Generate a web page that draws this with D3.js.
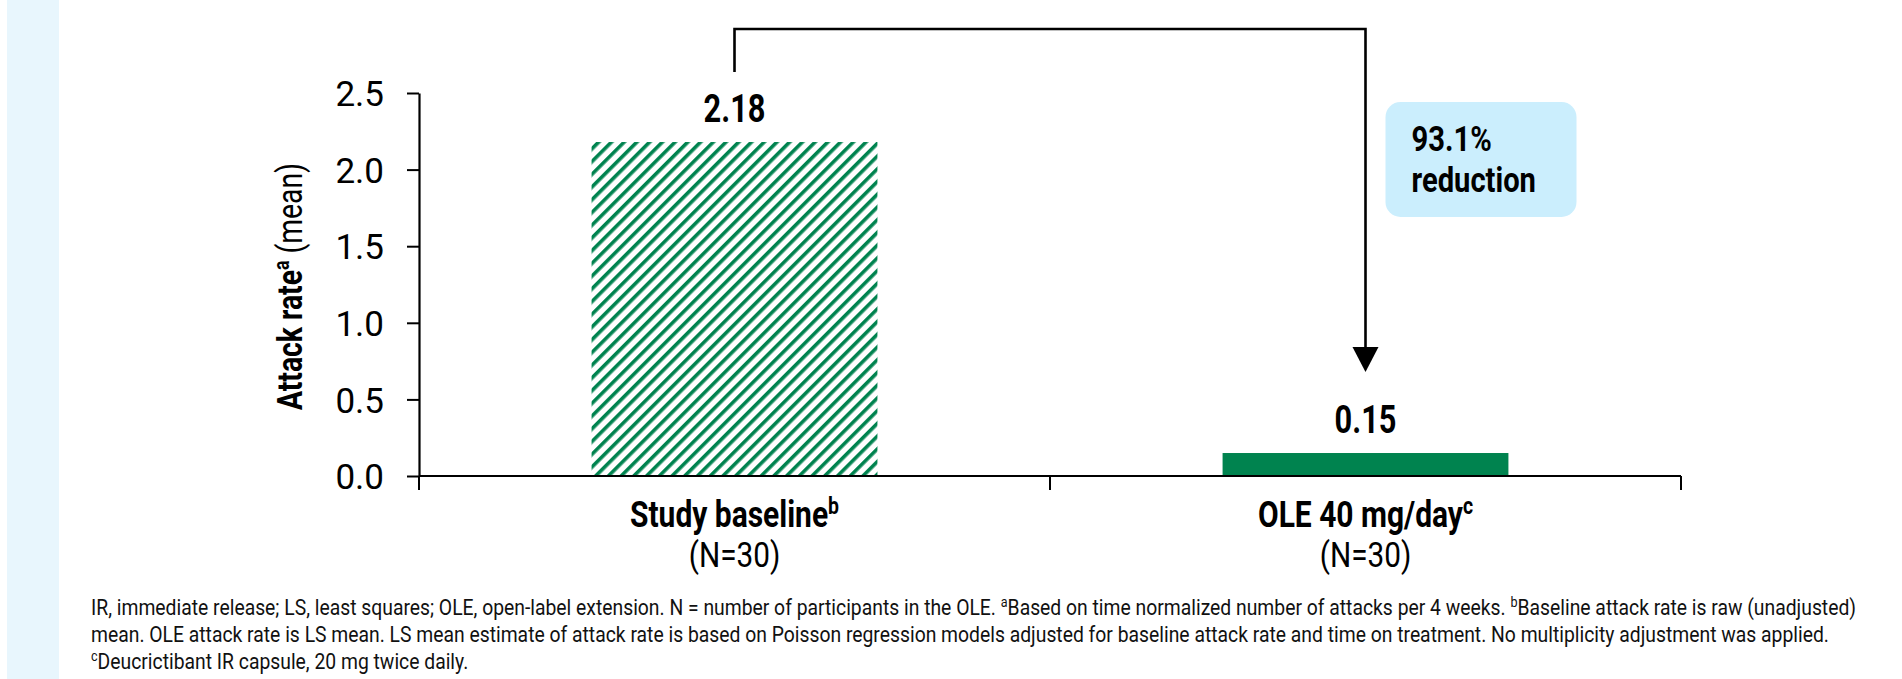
<!DOCTYPE html>
<html>
<head>
<meta charset="utf-8">
<script src="https://cdn.jsdelivr.net/npm/d3@7"></script>
<style>
  body { margin: 0; background: #fff; }
  svg { display: block; font-family: Roboto, "Noto Sans", sans-serif; }
</style>
</head>
<body>
<svg id="chart" width="1902" height="679"></svg>
<script>
/* Chart data */
var categories = ["Study baseline", "OLE 40 mg/day"];
var categorySup = ["b", "c"];
var categoryN = ["(N=30)", "(N=30)"];
var values = [2.18, 0.15];
var yTicks = [0, 0.5, 1.0, 1.5, 2.0, 2.5];
var reductionText = ["93.1%", "reduction"];

/* Footnote lines, superscripts as separate parts */
var footLines = [
	[["IR, immediate release; LS, least squares; OLE, open-label extension. N = number of participants in the OLE. ", false], ["a", true], ["Based on time normalized number of attacks per 4 weeks. ", false], ["b", true], ["Baseline attack rate is raw (unadjusted)", false]],
	[["mean. OLE attack rate is LS mean. LS mean estimate of attack rate is based on Poisson regression models adjusted for baseline attack rate and time on treatment. No multiplicity adjustment was applied.", false]],
	[["c", true], ["Deucrictibant IR capsule, 20 mg twice daily.", false]]
];

var green = "#00834f";
var cond = 0.81; // narrow look of the original font

var svg = d3.select("#chart");

// light strip on the left
svg.append("rect")
	.attr("x", 7).attr("y", 0)
	.attr("width", 52).attr("height", 679)
	.attr("fill", "#e8f6fd");

// hatch pattern for baseline bar
var defs = svg.append("defs");
var pat = defs.append("pattern")
	.attr("id", "hatch")
	.attr("patternUnits", "userSpaceOnUse")
	.attr("width", 9).attr("height", 9)
	.attr("patternTransform", "rotate(45)");
pat.append("rect").attr("width", 9).attr("height", 9).attr("fill", "#fff");
pat.append("rect").attr("x", 0).attr("width", 3.6).attr("height", 9).attr("fill", green);

/* Scales */
var x = d3.scaleBand().domain(categories).range([419, 1681]).padding(0);
var y = d3.scaleLinear().domain([0, 2.5]).range([476, 93]);
var barW = x.bandwidth() * 0.453;
function cx(c) { return x(c) + x.bandwidth() / 2; }

/* Y axis */
var yAxis = svg.append("g")
	.attr("transform", "translate(419,0)")
	.call(d3.axisLeft(y).tickValues(yTicks).tickFormat(d3.format(".1f")).tickSize(12).tickSizeOuter(0).tickPadding(23));
yAxis.select(".domain").attr("stroke", "#000").attr("stroke-width", 2.2);
yAxis.selectAll(".tick line").attr("stroke", "#000").attr("stroke-width", 2);
yAxis.selectAll(".tick text")
	.attr("font-family", "Roboto").attr("font-size", 35).attr("fill", "#000")
	.attr("dy", "0.36em");

/* X axis: baseline and boundary ticks */
var bounds = categories.map(function(c) { return x(c); }).concat([x(categories[1]) + x.bandwidth()]);
svg.selectAll(".xtick").data(bounds).enter().append("line")
	.attr("class", "xtick")
	.attr("x1", function(d) { return d; }).attr("x2", function(d) { return d; })
	.attr("y1", y(0)).attr("y2", y(0) + 14)
	.attr("stroke", "#000").attr("stroke-width", 2);

/* Bars */
svg.selectAll(".bar").data(values).enter().append("rect")
	.attr("class", "bar")
	.attr("x", function(d, i) { return cx(categories[i]) - barW / 2; })
	.attr("y", function(d) { return y(d); })
	.attr("width", barW)
	.attr("height", function(d) { return y(0) - y(d); })
	.attr("fill", function(d, i) { return i == 0 ? "url(#hatch)" : green; });

// baseline drawn on top of bars
svg.append("line")
	.attr("x1", 419).attr("x2", 1681)
	.attr("y1", y(0)).attr("y2", y(0))
	.attr("stroke", "#000").attr("stroke-width", 2.2);

/* Value labels */
svg.selectAll(".val").data(values).enter().append("text")
	.attr("class", "val")
	.attr("transform", function(d, i) { return "translate(" + cx(categories[i]) + "," + (y(d) - 20) + ") scale(" + cond + ",1)"; })
	.attr("text-anchor", "middle")
	.attr("font-size", 38).attr("font-weight", "bold")
	.text(function(d) { return d3.format(".2f")(d); });

/* Category labels */
categories.forEach(function(c, i) {
	var t = svg.append("text")
		.attr("transform", "translate(" + cx(c) + ",527) scale(" + cond + ",1)")
		.attr("text-anchor", "middle")
		.attr("font-size", 37).attr("font-weight", "bold");
	t.append("tspan").text(c);
	t.append("tspan").attr("font-size", 24).attr("dy", -13).text(categorySup[i]);

	svg.append("text")
		.attr("transform", "translate(" + cx(c) + ",567) scale(0.85,1)")
		.attr("text-anchor", "middle")
		.attr("font-size", 35)
		.text(categoryN[i]);
});

/* Y axis title */
var yt = svg.append("text")
	.attr("transform", "translate(302," + ((y(0) + y(2.5)) / 2 + 2) + ") rotate(-90) scale(" + cond + ",1)")
	.attr("text-anchor", "middle")
	.attr("font-size", 35);
yt.append("tspan").attr("font-weight", "bold").text("Attack rate");
yt.append("tspan").attr("font-weight", "bold").attr("font-size", 22).attr("dy", -13).text("a");
yt.append("tspan").attr("dy", 13).text(" (mean)");

/* Bracket with arrow */
var x0 = cx(categories[0]), x1 = cx(categories[1]);
var topY = 29, tipY = y(values[1]) - 81;
svg.append("path")
	.attr("d", "M" + x0 + "," + (y(values[0]) - 70) + "V" + topY + "H" + x1 + "V" + (tipY - 20))
	.attr("fill", "none").attr("stroke", "#000").attr("stroke-width", 2.6);
svg.append("path")
	.attr("d", "M" + (x1 - 13) + "," + (tipY - 25) + "L" + (x1 + 13) + "," + (tipY - 25) + "L" + x1 + "," + tipY + "Z")
	.attr("fill", "#000");

/* Reduction bubble */
var bx = x1 + 20;
svg.append("rect")
	.attr("x", bx).attr("y", 102)
	.attr("width", 191).attr("height", 115)
	.attr("rx", 15)
	.attr("fill", "#cbeefd");
reductionText.forEach(function(s, i) {
	svg.append("text")
		.attr("transform", "translate(" + (bx + 26) + "," + (151 + i * 41) + ") scale(" + cond + ",1)")
		.attr("font-size", 36).attr("font-weight", "bold")
		.text(s);
});

/* Footnote */
var foot = svg.append("g");
var footTexts = footLines.map(function(parts, i) {
	var t = foot.append("text")
		.attr("x", 0).attr("y", 0)
		.attr("font-size", 23).attr("fill", "#111");
	parts.forEach(function(p, j) {
		if (p[1]) {
			t.append("tspan").attr("font-size", 15).attr("dy", -8).text(p[0]);
		} else {
			var ts = t.append("tspan").text(p[0]);
			if (j > 0) ts.attr("dy", 8);
		}
	});
	return t;
});
// squeeze to the original width of the second line, same for all lines
var fs = (1830 - 91) / footTexts[1].node().getComputedTextLength();
footTexts.forEach(function(t, i) {
	t.attr("transform", "translate(91," + (615 + i * 27) + ") scale(" + fs + ",1)");
});
</script>
</body>
</html>
